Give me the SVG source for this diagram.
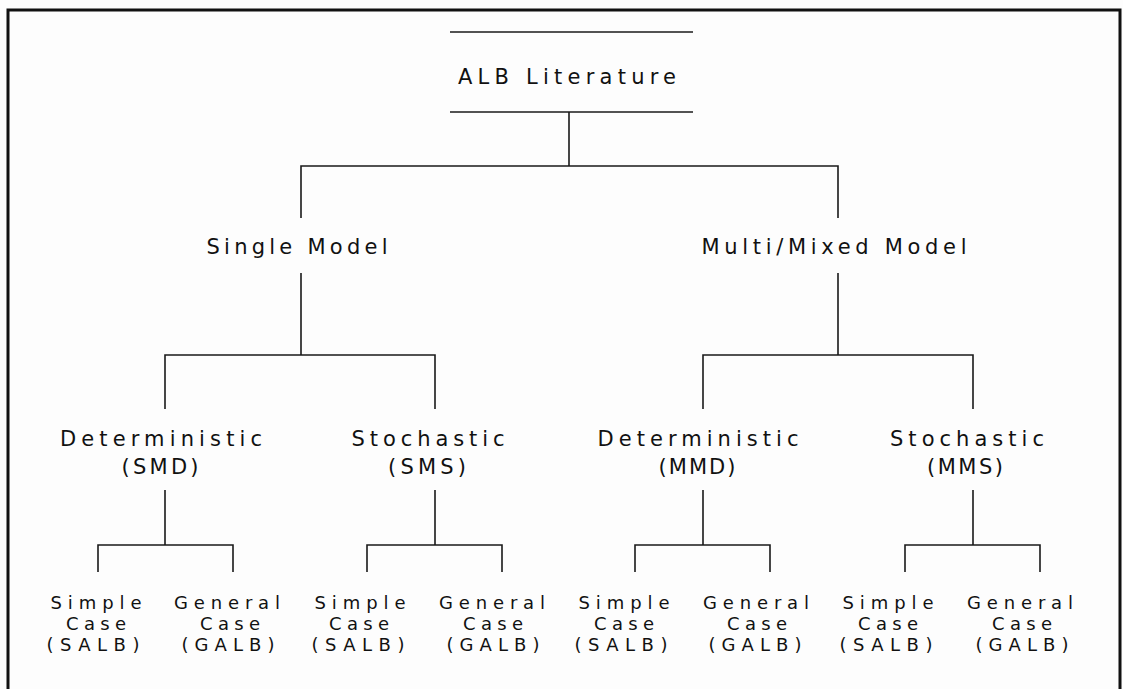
<svg xmlns="http://www.w3.org/2000/svg" width="1123" height="689" viewBox="0 0 1123 689">
<style>
.t{font-family:"DejaVu Sans","Liberation Sans",Arial,sans-serif;font-size:21px;fill:#111;text-anchor:middle}
.s{font-size:18px}
.c{stroke:#1a1a1a;stroke-width:1.6;fill:none}
.f{stroke:#111;stroke-width:3;fill:none}
</style>
<rect x="0" y="0" width="1123" height="689" fill="#fdfdfd"/>
<path class="f" d="M8,700 V10 H1120 V700"/>
<g id="connectors">
<path class="c" d="M450,32 H693" stroke-width="2"/>
<path class="c" d="M450,112 H693" stroke-width="2"/>
<path class="c" d="M569,112 V166 M301,218 V166 H838 V218"/>
<path class="c" d="M301,273 V355 M165,409 V355 H435 V409"/>
<path class="c" d="M838,273 V355 M703,409 V355 H973 V409"/>
<path class="c" d="M165,490 V545 M98,572 V545 H233 V572"/>
<path class="c" d="M435,490 V545 M367,572 V545 H502 V572"/>
<path class="c" d="M703,490 V545 M635,572 V545 H770 V572"/>
<path class="c" d="M973,490 V545 M905,572 V545 H1040 V572"/>
</g>
<g id="root"><text class="t" x="567" y="84" textLength="218" lengthAdjust="spacing">ALB Literature</text></g>
<g id="single"><text class="t" x="297" y="254" textLength="181" lengthAdjust="spacing">Single Model</text></g>
<g id="multi"><text class="t" x="834" y="254" textLength="265" lengthAdjust="spacing">Multi/Mixed Model</text></g>
<g id="smd"><text class="t" x="161" y="446"><tspan textLength="202" lengthAdjust="spacing">Deterministic</tspan><tspan x="160" dy="28" textLength="77" lengthAdjust="spacing">(SMD)</tspan></text></g>
<g id="sms"><text class="t" x="428" y="446"><tspan textLength="153" lengthAdjust="spacing">Stochastic</tspan><tspan x="427" dy="28" textLength="78" lengthAdjust="spacing">(SMS)</tspan></text></g>
<g id="mmd"><text class="t" x="698" y="446"><tspan textLength="201" lengthAdjust="spacing">Deterministic</tspan><tspan x="697" dy="28" textLength="77" lengthAdjust="spacing">(MMD)</tspan></text></g>
<g id="mms"><text class="t" x="967" y="446"><tspan textLength="154" lengthAdjust="spacing">Stochastic</tspan><tspan x="965" dy="28" textLength="76" lengthAdjust="spacing">(MMS)</tspan></text></g>
<g id="smd-salb"><text class="t s" x="96" y="609"><tspan textLength="91" lengthAdjust="spacing">Simple</tspan><tspan x="96" dy="21" textLength="60" lengthAdjust="spacing">Case</tspan><tspan x="93" dy="21" textLength="93" lengthAdjust="spacing">(SALB)</tspan></text></g>
<g id="smd-galb"><text class="t s" x="227" y="609"><tspan textLength="106" lengthAdjust="spacing">General</tspan><tspan x="230" dy="21" textLength="60" lengthAdjust="spacing">Case</tspan><tspan x="228" dy="21" textLength="93" lengthAdjust="spacing">(GALB)</tspan></text></g>
<g id="sms-salb"><text class="t s" x="360" y="609"><tspan textLength="91" lengthAdjust="spacing">Simple</tspan><tspan x="359" dy="21" textLength="60" lengthAdjust="spacing">Case</tspan><tspan x="358" dy="21" textLength="93" lengthAdjust="spacing">(SALB)</tspan></text></g>
<g id="sms-galb"><text class="t s" x="492" y="609"><tspan textLength="106" lengthAdjust="spacing">General</tspan><tspan x="493" dy="21" textLength="60" lengthAdjust="spacing">Case</tspan><tspan x="493" dy="21" textLength="93" lengthAdjust="spacing">(GALB)</tspan></text></g>
<g id="mmd-salb"><text class="t s" x="624" y="609"><tspan textLength="91" lengthAdjust="spacing">Simple</tspan><tspan x="624" dy="21" textLength="60" lengthAdjust="spacing">Case</tspan><tspan x="621" dy="21" textLength="93" lengthAdjust="spacing">(SALB)</tspan></text></g>
<g id="mmd-galb"><text class="t s" x="756" y="609"><tspan textLength="106" lengthAdjust="spacing">General</tspan><tspan x="757" dy="21" textLength="60" lengthAdjust="spacing">Case</tspan><tspan x="755" dy="21" textLength="93" lengthAdjust="spacing">(GALB)</tspan></text></g>
<g id="mms-salb"><text class="t s" x="888" y="609"><tspan textLength="91" lengthAdjust="spacing">Simple</tspan><tspan x="888" dy="21" textLength="60" lengthAdjust="spacing">Case</tspan><tspan x="886" dy="21" textLength="93" lengthAdjust="spacing">(SALB)</tspan></text></g>
<g id="mms-galb"><text class="t s" x="1020" y="609"><tspan textLength="106" lengthAdjust="spacing">General</tspan><tspan x="1022" dy="21" textLength="60" lengthAdjust="spacing">Case</tspan><tspan x="1022" dy="21" textLength="93" lengthAdjust="spacing">(GALB)</tspan></text></g>
</svg>
